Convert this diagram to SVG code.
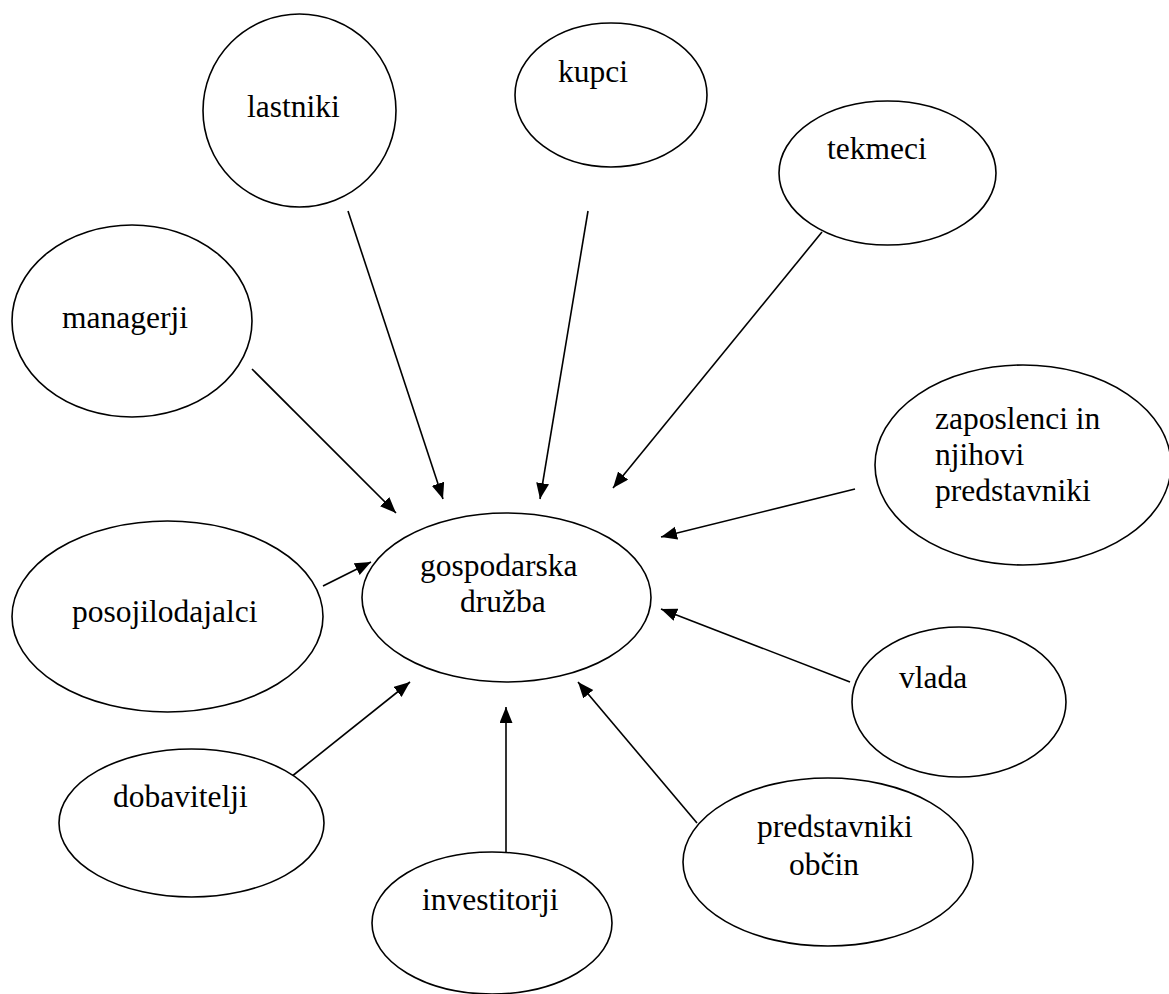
<svg xmlns="http://www.w3.org/2000/svg" width="1169" height="994" viewBox="0 0 1169 994">
<style>
.n ellipse{fill:#fff;stroke:#000;stroke-width:1.6}
.n text{font-family:"Liberation Serif","Times New Roman",serif;font-size:31.5px;fill:#000}
.c line{stroke:#000;stroke-width:1.6;marker-end:url(#ah)}
</style>
<defs>
<marker id="ah" markerUnits="userSpaceOnUse" markerWidth="18" markerHeight="14" refX="16" refY="6.5" orient="auto">
<path d="M0,0 L16,6.5 L0,13 z" fill="#000"/>
</marker>
</defs>
<rect width="1169" height="994" fill="#fff"/>
<g class="c" id="connectors">
<line x1="252" y1="369" x2="396" y2="513"/>
<line x1="348" y1="211" x2="443" y2="499"/>
<line x1="588" y1="211" x2="540" y2="499"/>
<line x1="822" y1="232" x2="613" y2="488"/>
<line x1="855" y1="489" x2="661" y2="537"/>
<line x1="323" y1="586" x2="371" y2="562"/>
<line x1="850" y1="682" x2="661" y2="609"/>
<line x1="291" y1="777" x2="410" y2="682"/>
<line x1="506" y1="852" x2="506" y2="707"/>
<line x1="697" y1="823" x2="578" y2="682"/>
</g>
<g class="n" id="lastniki" font-family="Liberation Serif, serif"><ellipse cx="299.5" cy="110.5" rx="96.5" ry="96.5"/><text x="247" y="117">lastniki</text></g>
<g class="n" id="kupci" font-family="Liberation Serif, serif"><ellipse cx="611" cy="95" rx="96" ry="72"/><text x="558" y="82">kupci</text></g>
<g class="n" id="tekmeci" font-family="Liberation Serif, serif"><ellipse cx="887.5" cy="173" rx="108.5" ry="72"/><text x="827" y="159">tekmeci</text></g>
<g class="n" id="managerji" font-family="Liberation Serif, serif"><ellipse cx="132" cy="321" rx="120" ry="96"/><text x="62" y="328">managerji</text></g>
<g class="n" id="zaposlenci" font-family="Liberation Serif, serif"><ellipse cx="1023" cy="465" rx="148" ry="100"/><text x="935" y="429">zaposlenci in</text><text x="935" y="465">njihovi</text><text x="935" y="501">predstavniki</text></g>
<g class="n" id="druzba" font-family="Liberation Serif, serif"><ellipse cx="506.5" cy="597.5" rx="144.5" ry="84.5"/><text x="420" y="576">gospodarska</text><text x="460" y="612">družba</text></g>
<g class="n" id="posojilodajalci" font-family="Liberation Serif, serif"><ellipse cx="167.5" cy="616.5" rx="155.5" ry="95.5"/><text x="72" y="622">posojilodajalci</text></g>
<g class="n" id="vlada" font-family="Liberation Serif, serif"><ellipse cx="959" cy="702" rx="107" ry="75"/><text x="899" y="688">vlada</text></g>
<g class="n" id="dobavitelji" font-family="Liberation Serif, serif"><ellipse cx="191.5" cy="823" rx="132.5" ry="74"/><text x="113" y="807">dobavitelji</text></g>
<g class="n" id="obcine" font-family="Liberation Serif, serif"><ellipse cx="828" cy="862" rx="145" ry="84"/><text x="757" y="837">predstavniki</text><text x="789" y="875">občin</text></g>
<g class="n" id="investitorji" font-family="Liberation Serif, serif"><ellipse cx="492" cy="923" rx="120" ry="71"/><text x="422" y="910">investitorji</text></g>
</svg>
